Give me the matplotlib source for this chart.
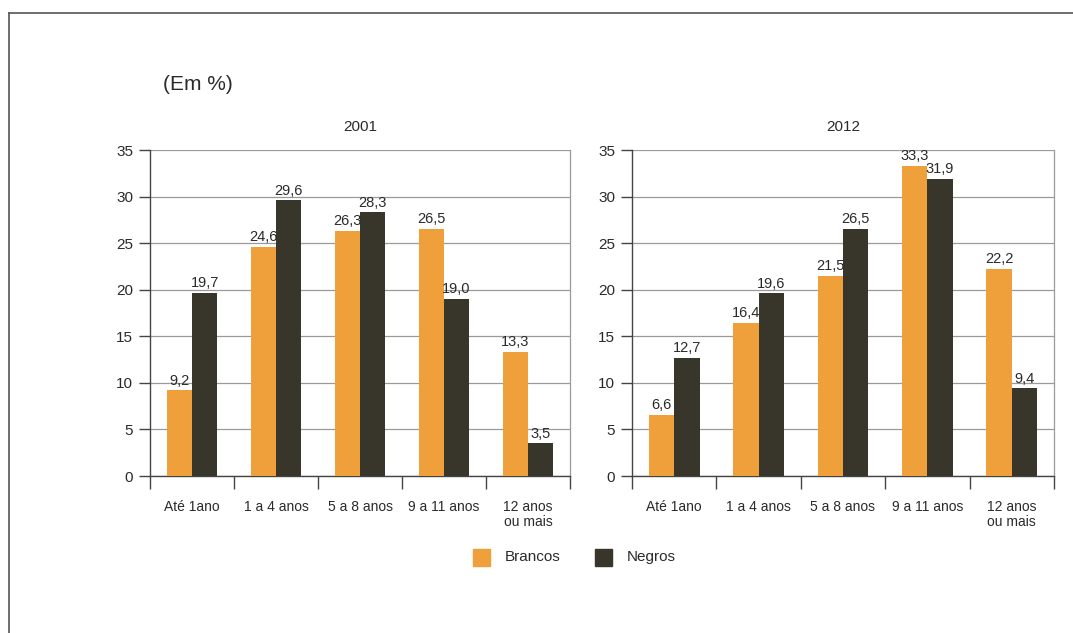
import matplotlib
matplotlib.use("Agg")
import matplotlib.pyplot as plt
from matplotlib.lines import Line2D
from matplotlib.patches import Rectangle
import numpy as np

# ── Data ─────────────────────────────────────────────
categories = ["Até 1ano", "1 a 4 anos", "5 a 8 anos", "9 a 11 anos", "12 anos\nou mais"]
years = ["2001", "2012"]
brancos_2001 = [9.2, 24.6, 26.3, 26.5, 13.3]
negros_2001 = [19.7, 29.6, 28.3, 19.0, 3.5]
brancos_2012 = [6.6, 16.4, 21.5, 33.3, 22.2]
negros_2012 = [12.7, 19.6, 26.5, 31.9, 9.4]
yticks = [0, 5, 10, 15, 20, 25, 30, 35]

ORANGE = "#F0A03A"
DARK = "#38362A"
TXT = "#2a2a2a"
FONT = ["Liberation Sans", "DejaVu Sans"]
plt.rcParams["font.family"] = FONT

W, H = 1073, 633
fig = plt.figure(figsize=(W / 100, H / 100), dpi=100)
fig.patch.set_facecolor("white")

# outer frame (top and left edges visible)
fig.add_artist(Line2D([9 / W, 1], [1 - 13 / H, 1 - 13 / H], color="#555555", lw=1.2))
fig.add_artist(Line2D([9 / W, 9 / W], [0, 1 - 13 / H], color="#555555", lw=1.2))

fig.text(163 / W, 1 - 85 / H, "(Em %)", fontsize=15, color=TXT, va="center", ha="left")


def draw_panel(rect, title, brancos, negros):
    ax = fig.add_axes(rect)
    x = np.arange(len(categories))
    w = 0.3
    ax.bar(x - w / 2, brancos, w, color=ORANGE, zorder=3)
    ax.bar(x + w / 2, negros, w, color=DARK, zorder=3)
    for xi, v in zip(x - w / 2, brancos):
        ax.text(xi, v + 0.3, f"{v:.1f}".replace(".", ","), ha="center", va="bottom",
                fontsize=10.5, color=TXT, zorder=4)
    for xi, v in zip(x + w / 2, negros):
        ax.text(xi, v + 0.3, f"{v:.1f}".replace(".", ","), ha="center", va="bottom",
                fontsize=10.5, color=TXT, zorder=4)

    ax.set_xlim(-0.5, len(categories) - 0.5)
    ax.set_ylim(0, 35)
    ax.set_yticks(yticks)
    ax.set_yticklabels([str(t) for t in yticks], fontsize=11, color=TXT)
    ax.set_xticks(x)
    ax.set_xticklabels(categories, fontsize=10, color=TXT, linespacing=1.1)
    ax.set_xticks(np.arange(len(categories) + 1) - 0.5, minor=True)
    ax.tick_params(axis="x", which="major", length=0, pad=17)
    ax.tick_params(axis="x", which="minor", length=9, width=1, color="#444444", direction="out")
    ax.tick_params(axis="y", length=8, width=1, color="#444444", direction="out", pad=4)

    ax.yaxis.grid(True, color="#9a9a9a", lw=0.9, zorder=0)
    ax.set_axisbelow(True)
    ax.spines["top"].set_visible(False)
    ax.spines["right"].set_color("#9a9a9a")
    ax.spines["right"].set_linewidth(0.9)
    ax.spines["left"].set_color("#444444")
    ax.spines["bottom"].set_color("#444444")
    ax.spines["left"].set_linewidth(1)
    ax.spines["bottom"].set_linewidth(1)
    ax.set_title(title, fontsize=11, color=TXT, pad=14)
    return ax


ax_h = (476 - 150) / H
bottom = 1 - 476 / H
draw_panel([150 / W, bottom, 420 / W, ax_h], years[0], brancos_2001, negros_2001)
draw_panel([632 / W, bottom, 422 / W, ax_h], years[1], brancos_2012, negros_2012)

# legend
sq = 17
for (x0, lab, col) in [(473, "Brancos", ORANGE), (595, "Negros", DARK)]:
    fig.add_artist(Rectangle((x0 / W, 1 - 566 / H), sq / W, sq / H, color=col,
                             transform=fig.transFigure))
    fig.text((x0 + 32) / W, 1 - 557 / H, lab, fontsize=11, color=TXT, va="center", ha="left")

fig.savefig("out.png", dpi=100)
